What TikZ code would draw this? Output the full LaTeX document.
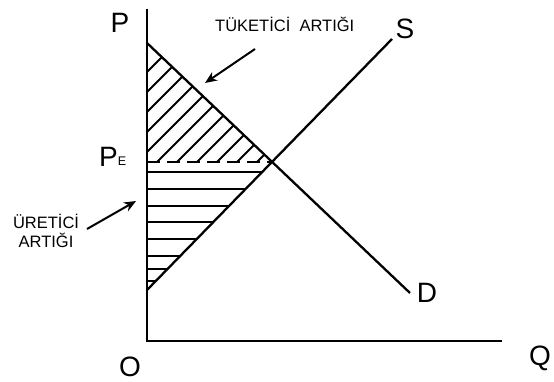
\documentclass[tikz,border=0pt]{standalone}
\usepackage{fontspec}
\setmainfont{Liberation Sans}
\usetikzlibrary{arrows.meta}
\begin{document}
\begin{tikzpicture}[x=1pt,y=-1pt,
  axisline/.style={line width=2.6pt},
  curveline/.style={line width=2.3pt},
  hatchline/.style={line width=2.1pt},
  lbl/.style={font=\fontsize{16.5}{19}\selectfont, inner sep=0pt},
  big/.style={font=\fontsize{28}{30}\selectfont, inner sep=0pt},
  pointer/.style={line width=2pt, -{Stealth[length=12pt,width=10pt]}}]
\useasboundingbox (0,0) rectangle (554,382);
% key points
\coordinate (O) at (147,341);
\coordinate (Ytop) at (147,9);
\coordinate (Xend) at (502,341);
\coordinate (Dtop) at (147,43);
\coordinate (Dend) at (410,293);
\coordinate (Sbot) at (147,290);
\coordinate (Send) at (392,39);
\coordinate (Eq) at (272.3,162);
\coordinate (PEa) at (147,162);
% consumer surplus hatching
\begin{scope}
  \clip (Dtop) -- (PEa) -- (Eq) -- cycle;
  \foreach \c in {219,239,...,419}
    \draw[hatchline] (\c-180,180) -- (\c-30,30);
\end{scope}
% producer surplus hatching
\begin{scope}
  \clip (PEa) -- (Sbot) -- (Eq) -- cycle;
  \foreach \yy in {172,189,206,222,239,256,269,281}
    \draw[hatchline] (140,\yy) -- (290,\yy);
\end{scope}
% dashed equilibrium price line
\draw[hatchline, dash pattern=on 13pt off 7pt] (PEa) -- (Eq);
% curves
\draw[curveline] (Dtop) -- (Dend);
\draw[curveline] (Sbot) -- (Send);
% axes
\draw[axisline] (Ytop) -- (O) -- (Xend);
% labels
\node[big] (Plbl) at (120,23) {P};
\node[big, anchor=base west] (PElbl) at (99,167) {P\raisebox{1pt}{\fontsize{12.5}{12}\selectfont E}};
\node[big] (Slbl) at (405,29) {S};
\node[big] (Dlbl) at (427,293) {D};
\node[big] (Olbl) at (130,367) {O};
\node[big] (Qlbl) at (540,358) {Q};
\node[lbl, anchor=west] (TA) at (215,24) {TÜKETİCİ\ \ ARTIĞI};
\node[lbl, align=center] (UA) at (46,231) {ÜRETİCİ\\ARTIĞI};
% pointers
\coordinate (t1) at (255,49);
\coordinate (t2) at (205,83);
\coordinate (u1) at (87,229);
\coordinate (u2) at (136,201);
\draw[pointer] (t1) -- (t2);
\draw[pointer] (u1) -- (u2);
\end{tikzpicture}
\end{document}
